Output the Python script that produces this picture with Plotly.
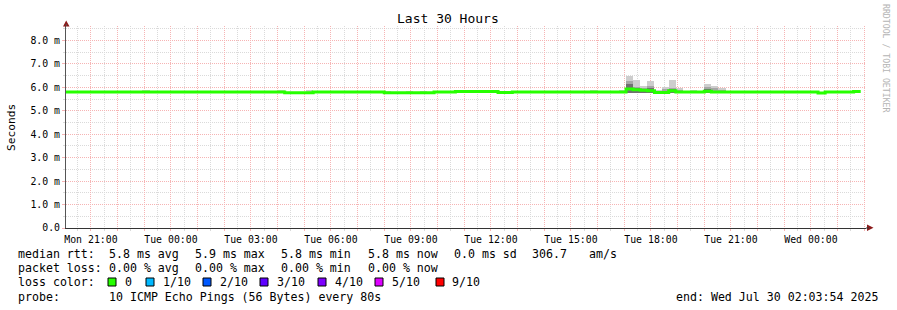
import plotly.graph_objects as go
import pandas as pd

# ---------------- data ----------------
start_time = "2025-07-28 20:03:54"
end_time = "2025-07-30 02:03:54"
line_end = "2025-07-30 01:52:00"

# median rtt (ms), step changes at the start of 16-minute bins
median_times = [
    "2025-07-28 20:00", "2025-07-29 04:16", "2025-07-29 05:20", "2025-07-29 08:00",
    "2025-07-29 09:52", "2025-07-29 10:40", "2025-07-29 12:16", "2025-07-29 12:48",
    "2025-07-29 17:04", "2025-07-29 17:20", "2025-07-29 17:36", "2025-07-29 17:52",
    "2025-07-29 18:08", "2025-07-29 18:40", "2025-07-29 18:56", "2025-07-29 20:00",
    "2025-07-29 20:16", "2025-07-30 00:16", "2025-07-30 00:32", "2025-07-30 01:36",
]
median_vals = [
    5.80, 5.77, 5.80, 5.77,
    5.80, 5.82, 5.78, 5.80,
    5.93, 5.90, 5.88, 5.86,
    5.78, 5.86, 5.80, 5.84,
    5.80, 5.76, 5.80, 5.82,
]

# smoke (ping spread) per 16-minute bin
smoke_bins = [
    "2025-07-28 20:00", "2025-07-28 21:04", "2025-07-28 22:56", "2025-07-29 04:00",
    "2025-07-29 05:04", "2025-07-29 08:00", "2025-07-29 08:48", "2025-07-29 09:20",
    "2025-07-29 10:56", "2025-07-29 15:44", "2025-07-29 16:48", "2025-07-29 17:04",
    "2025-07-29 17:20", "2025-07-29 17:36", "2025-07-29 17:52", "2025-07-29 18:08",
    "2025-07-29 18:24", "2025-07-29 18:40", "2025-07-29 18:56", "2025-07-29 19:28",
    "2025-07-29 20:00", "2025-07-29 20:16", "2025-07-29 20:32",
]
smoke_min = [5.78, 5.78, 5.78, 5.78, 5.78, 5.78, 5.78, 5.78, 5.78, 5.78, 5.76, 5.74,
             5.74, 5.74, 5.74, 5.77, 5.76, 5.74, 5.76, 5.78, 5.74, 5.75, 5.76]
smoke_max = [5.85, 5.85, 5.87, 5.87, 5.87, 5.84, 5.84, 5.85, 5.88, 5.88, 5.90, 6.48,
             6.30, 6.04, 6.26, 5.87, 6.00, 6.30, 5.97, 5.87, 6.13, 6.06, 5.97]
smoke_mid_hi = [None, None, None, None, None, None, None, None, None, None, None, 6.27,
                6.02, 5.98, 6.04, None, 5.93, 5.97, 5.90, None, 6.00, 5.96, 5.90]
smoke_dark_hi = [None, None, None, None, None, None, None, None, None, None, None, 6.13,
                 5.97, 5.95, 5.97, None, None, 5.92, None, None, 5.93, None, None]

y_tick_vals = [0, 1, 2, 3, 4, 5, 6, 7, 8]
y_tick_text = ["0.0", "1.0 m", "2.0 m", "3.0 m", "4.0 m", "5.0 m", "6.0 m", "7.0 m", "8.0 m"]

x_label_times = pd.date_range("2025-07-28 21:00", "2025-07-30 02:00", freq="1h")
x_label_text = [t.strftime("%a %H:%M") if t.hour % 3 == 0 else "" for t in x_label_times]

loss_labels = ["0", "1/10", "2/10", "3/10", "4/10", "5/10", "9/10"]
loss_colors = ["#26ff00", "#00b8ff", "#0059ff", "#5e00ff", "#7e00ff", "#dd00ff", "#ff0000"]

# ---------------- layout constants ----------------
W, H = 897, 310
ML, MR, MT, MB = 66, 31, 26, 82
PW, PH = W - ML - MR, H - MT - MB
MONO = "DejaVu Sans Mono"
MAJOR_GRID = "#f6b4b4"
MINOR_GRID = "#dadada"


def px(x):
    return (x - ML) / PW


def py(y):
    return (H - MB - y) / PH


bin_w = pd.Timedelta(minutes=16)
bin_start = pd.to_datetime(smoke_bins)
bin_center = bin_start + bin_w / 2
width_ms = bin_w.total_seconds() * 1000 * 1.001

fig = go.Figure()


def smoke_layer(lo, hi, color):
    xs, bases, hs = [], [], []
    for c, a, b in zip(bin_center, lo, hi):
        if a is None or b is None:
            continue
        xs.append(c)
        bases.append(a)
        hs.append(b - a)
    fig.add_trace(go.Bar(x=xs, y=hs, base=bases, width=width_ms,
                         marker=dict(color=color, line=dict(width=0)),
                         showlegend=False, hoverinfo="skip"))


smoke_layer(smoke_min, smoke_max, "#cdcdcd")
smoke_layer(smoke_min, smoke_mid_hi, "#a6a6a6")
smoke_layer(smoke_min, smoke_dark_hi, "#707070")

mx = list(pd.to_datetime(median_times)) + [pd.Timestamp(line_end)]
my = median_vals + [median_vals[-1]]
fig.add_trace(go.Scatter(x=mx, y=my, mode="lines", line=dict(color="#26ff00", width=3, shape="hv"),
                         showlegend=False, hoverinfo="skip"))

fig.update_layout(
    width=W, height=H, autosize=False,
    margin=dict(l=ML, r=MR, t=MT, b=MB, pad=0),
    paper_bgcolor="white", plot_bgcolor="white",
    barmode="overlay", bargap=0,
    showlegend=False,
    font=dict(family=MONO, color="black"),
)

fig.update_xaxes(
    type="date",
    range=[start_time, end_time],
    tickmode="array", tickvals=list(x_label_times), ticktext=x_label_text,
    tickfont=dict(family=MONO, size=9.85, color="black"),
    ticks="outside", ticklen=2, tickcolor=MAJOR_GRID,
    showgrid=True, gridcolor=MAJOR_GRID, griddash="1px,1px", gridwidth=1,
    minor=dict(dtick=30 * 60 * 1000, tick0="2025-07-28 20:30:00", showgrid=True,
               gridcolor=MINOR_GRID, griddash="1px,1px", ticks="outside", ticklen=2,
               tickcolor=MINOR_GRID),
    showline=True, linecolor="#333333", linewidth=1,
    zeroline=False, fixedrange=True,
)

fig.update_yaxes(
    range=[0, 8.62],
    tickmode="array", tickvals=y_tick_vals, ticktext=y_tick_text,
    tickfont=dict(family=MONO, size=9.85, color="black"),
    ticks="outside", ticklen=3, tickcolor=MAJOR_GRID,
    showgrid=True, gridcolor=MAJOR_GRID, griddash="1px,1px", gridwidth=1,
    minor=dict(dtick=0.5, tick0=0, showgrid=True, gridcolor=MINOR_GRID, griddash="1px,1px",
               ticks="outside", ticklen=2, tickcolor=MINOR_GRID),
    showline=True, linecolor="#555555", linewidth=1,
    zeroline=False, fixedrange=True,
)

ann = []


def text(x, y, s, size=11.6, color="black", xanchor="left", angle=0):
    ann.append(dict(x=px(x), y=py(y), xref="paper", yref="paper", text=s.replace(" ", "\u00a0"),
                    showarrow=False, xanchor=xanchor, yanchor="middle", textangle=angle,
                    font=dict(family=MONO, size=size, color=color)))


text(447.5, 19, "Last 30 Hours", size=13, xanchor="center")
text(11, 127, "Seconds", size=11.2, xanchor="center", angle=-90)
text(886, 59, "RRDTOOL / TOBI OETIKER", size=8.2, color="#b4b4b4", xanchor="center", angle=90)

row1, row2, row3, row4 = 254, 268, 282, 297
for x, s in [(16, "median rtt:"), (107, "5.8 ms avg"), (193, "5.9 ms max"), (279, "5.8 ms min"),
             (365.5, "5.8 ms now"), (451.5, "0.0 ms sd"), (530, "306.7"), (586.5, "am/s")]:
    text(x, row1, s)
for x, s in [(16, "packet loss:"), (107, "0.00 % avg"), (193, "0.00 % max"), (279, "0.00 % min"),
             (365.5, "0.00 % now")]:
    text(x, row2, s)
text(16, row3, "loss color:")
text(16, row4, "probe:")
text(107, row4, "10 ICMP Echo Pings (56 Bytes) every 80s")
text(880, row4, "end: Wed Jul 30 02:03:54 2025", xanchor="right")

sq_x = [108, 146, 203, 260, 318, 375, 436]
lb_x = [123, 160.5, 218, 275, 332.5, 390, 450]
shapes = []
for sx, lx, lab, col in zip(sq_x, lb_x, loss_labels, loss_colors):
    shapes.append(dict(type="rect", xref="paper", yref="paper",
                       x0=px(sx), x1=px(sx + 8), y0=py(row3 + 4), y1=py(row3 - 4),
                       fillcolor=col, line=dict(color="black", width=1)))
    text(lx, row3, lab)

# axis arrows
arrow_col = "#8b1a1a"
shapes.append(dict(type="path", xref="paper", yref="paper",
                   path=f"M {px(63)} {py(26.5)} L {px(69.5)} {py(26.5)} L {px(66.2)} {py(20.5)} Z",
                   fillcolor=arrow_col, line=dict(width=0)))
shapes.append(dict(type="path", xref="paper", yref="paper",
                   path=f"M {px(867)} {py(224.5)} L {px(867)} {py(231)} L {px(873.5)} {py(227.8)} Z",
                   fillcolor=arrow_col, line=dict(width=0)))
shapes.append(dict(type="line", xref="paper", yref="paper", x0=px(66.3), x1=px(66.3), y0=1, y1=py(24),
                   line=dict(color="#555555", width=1)))
shapes.append(dict(type="line", xref="paper", yref="paper", x0=1, x1=px(869), y0=0, y1=0,
                   line=dict(color="#333333", width=1)))

fig.update_layout(annotations=ann, shapes=shapes)

fig.write_html("out.html", config={"displayModeBar": False, "staticPlot": True})
